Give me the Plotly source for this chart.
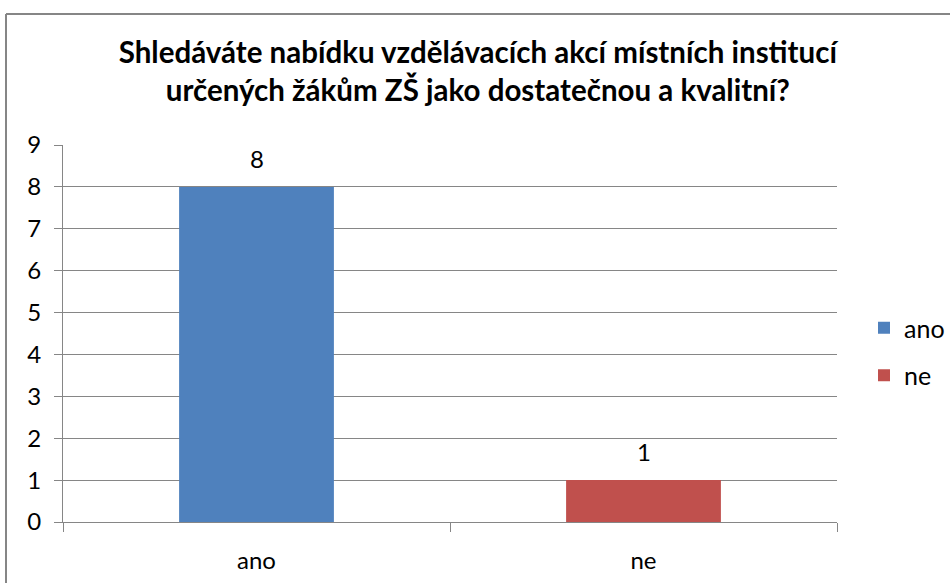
import plotly.graph_objects as go

categories = ["ano", "ne"]
values = [8, 1]
colors = ["#4F81BD", "#C0504D"]
title_text = "Shledáváte nabídku vzdělávacích akcí místních institucí<br>určených žákům ZŠ jako dostatečnou a kvalitní?"

FONT = "Lato, Carlito, Calibri, sans-serif"

fig = go.Figure()
for cat, val, col in zip(categories, values, colors):
    fig.add_trace(go.Bar(
        x=[cat], y=[val], name=cat, legendgroup=cat,
        marker=dict(color=col, line=dict(width=0)),
    ))
    fig.add_annotation(x=cat, y=val, text=str(val), showarrow=False,
                       yanchor="bottom", yshift=12,
                       font=dict(size=24, color="black", family=FONT))

L, R, T, B = 63, 113, 145, 61
W, H = 950, 583
pw, ph = W - L - R, H - T - B

fig.update_layout(
    width=W, height=H,
    margin=dict(l=L, r=R, t=T, b=B, pad=0, autoexpand=False),
    paper_bgcolor="white", plot_bgcolor="white",
    barmode="overlay", bargap=0.6,
    font=dict(family=FONT, size=24, color="black"),
    title=dict(text=title_text, x=0.503, xanchor="center", y=1 - 63 / H, yanchor="top",
               font=dict(family=FONT, size=29.5, color="black", weight="bold")),
    legend=dict(x=(864 - L) / pw, y=1 - (305 - T) / ph, xanchor="left", yanchor="top",
                font=dict(size=25, family=FONT), itemsizing="constant",
                tracegroupgap=12, bgcolor="rgba(0,0,0,0)"),
    showlegend=True,
)
fig.update_yaxes(range=[0, 9], dtick=1, showgrid=True, gridcolor="#868686", gridwidth=1,
                 showline=True, linecolor="#868686", linewidth=1,
                 ticks="outside", ticklen=8, tickcolor="#868686", zeroline=False,
                 tickfont=dict(size=24, family=FONT), ticklabelstandoff=8)
fig.update_xaxes(showline=True, linecolor="#868686", linewidth=1, ticks="outside",
                 tickson="boundaries", ticklen=9, tickcolor="#868686",
                 tickfont=dict(size=24, family=FONT), ticklabelstandoff=17)

bx0, bx1 = (6 - L) / pw, (1000 - L) / pw
by0, by1 = 1 - (640 - T) / ph, 1 + (T - 14) / ph
border = dict(color="#868686", width=2)
fig.add_shape(type="line", xref="paper", yref="paper", x0=bx0, x1=bx1, y0=by1, y1=by1, line=border)
fig.add_shape(type="line", xref="paper", yref="paper", x0=bx0, x1=bx0, y0=by0, y1=by1, line=border)

fig.write_html("out.html", config={"displayModeBar": False},
               post_script="document.body.style.margin='0';document.documentElement.style.margin='0';")
